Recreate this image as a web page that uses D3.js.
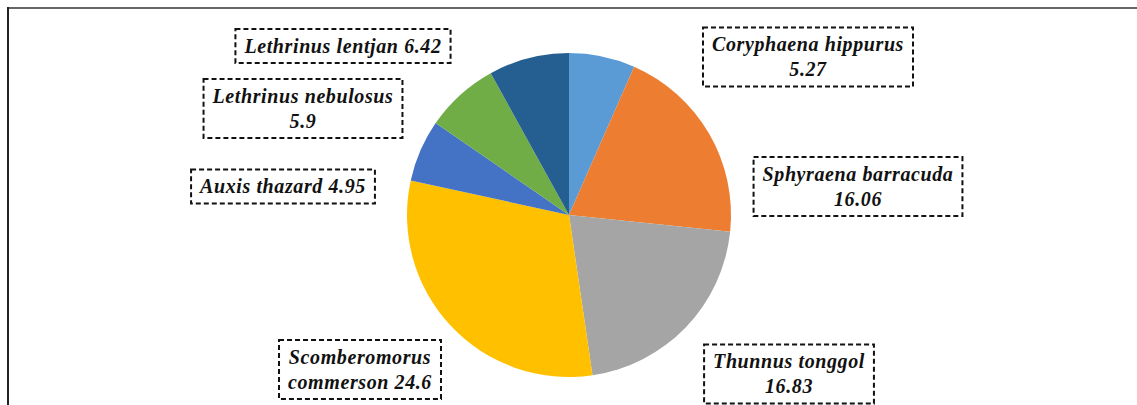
<!DOCTYPE html>
<html>
<head>
<meta charset="utf-8">
<script src="https://cdn.jsdelivr.net/npm/d3@7"></script>
<style>
  body { margin: 0; background: #fff; }
  svg { display: block; }
  .lbl { font-family: "Liberation Serif", "Times New Roman", Times, serif; font-weight: bold; font-style: italic; }
</style>
</head>
<body>
<div id="pie"></div>
<script>
// Data
const species = ["Coryphaena hippurus", "Sphyraena barracuda", "Thunnus tonggol",
  "Scomberomorus commerson", "Auxis thazard", "Lethrinus nebulosus", "Lethrinus lentjan"];
const values = [5.27, 16.06, 16.83, 24.6, 4.95, 5.9, 6.42];
const colors = ["#5B9BD5", "#ED7D31", "#A5A5A5", "#FFC000", "#4472C4", "#70AD47", "#255E91"];

// label layout: box centre + how the text is broken into lines
const labelPos = [
  { cx: 808, cy: 57, split: "name" },
  { cx: 858, cy: 186.5, split: "name" },
  { cx: 789, cy: 374, split: "name" },
  { cx: 360, cy: 369.5, split: "first" },
  { cx: 283, cy: 186.5, split: "none" },
  { cx: 303, cy: 108.5, split: "name" },
  { cx: 343, cy: 46, split: "none" }
];

const W = 1137, H = 405;
const center = { x: 569, y: 215 };
const radius = 162;

const svg = d3.select("#pie").append("svg")
  .attr("width", W)
  .attr("height", H);

// frame (cropped: only top and left edges visible)
svg.append("line").attr("x1", 8).attr("y1", 8).attr("x2", W).attr("y2", 8)
  .attr("stroke", "#666").attr("stroke-width", 2);
svg.append("line").attr("x1", 8).attr("y1", 7).attr("x2", 8).attr("y2", H)
  .attr("stroke", "#222").attr("stroke-width", 2);

// Pie
const pie = d3.pie().value(d => d).sort(null);
const arc = d3.arc().innerRadius(0).outerRadius(radius);

svg.append("g")
  .attr("transform", "translate(" + center.x + "," + center.y + ")")
  .selectAll("path")
  .data(pie(values))
  .join("path")
  .attr("d", arc)
  .attr("fill", (d, i) => colors[i]);

// Labels
const lineH = 25;
species.forEach((name, i) => {
  const p = labelPos[i];
  let lines;
  if (p.split === "none") lines = [name + " " + values[i]];
  else if (p.split === "first") {
    const parts = name.split(" ");
    lines = [parts[0], parts.slice(1).join(" ") + " " + values[i]];
  } else lines = [name, String(values[i])];

  const g = svg.append("g");
  const rect = g.append("rect");
  const txt = g.append("text")
    .attr("class", "lbl")
    .attr("text-anchor", "middle")
    .style("font-size", "20px")
    .style("letter-spacing", "0.6px")
    .attr("fill", "#111");

  const top = p.cy - (lines.length - 1) * lineH / 2;
  lines.forEach((l, j) => {
    txt.append("tspan")
      .attr("x", p.cx)
      .attr("y", top + j * lineH)
      .attr("dy", "0.33em")
      .text(l);
  });

  const maxW = d3.max(txt.selectAll("tspan").nodes(), n => n.getComputedTextLength());
  const bw = maxW + 18;
  const bh = lines.length * lineH + 9;
  rect.attr("x", p.cx - bw / 2)
    .attr("y", p.cy - bh / 2)
    .attr("width", bw)
    .attr("height", bh)
    .attr("fill", "#fff")
    .attr("stroke", "#111")
    .attr("stroke-width", 2)
    .attr("stroke-dasharray", "5,3");
});
</script>
</body>
</html>
